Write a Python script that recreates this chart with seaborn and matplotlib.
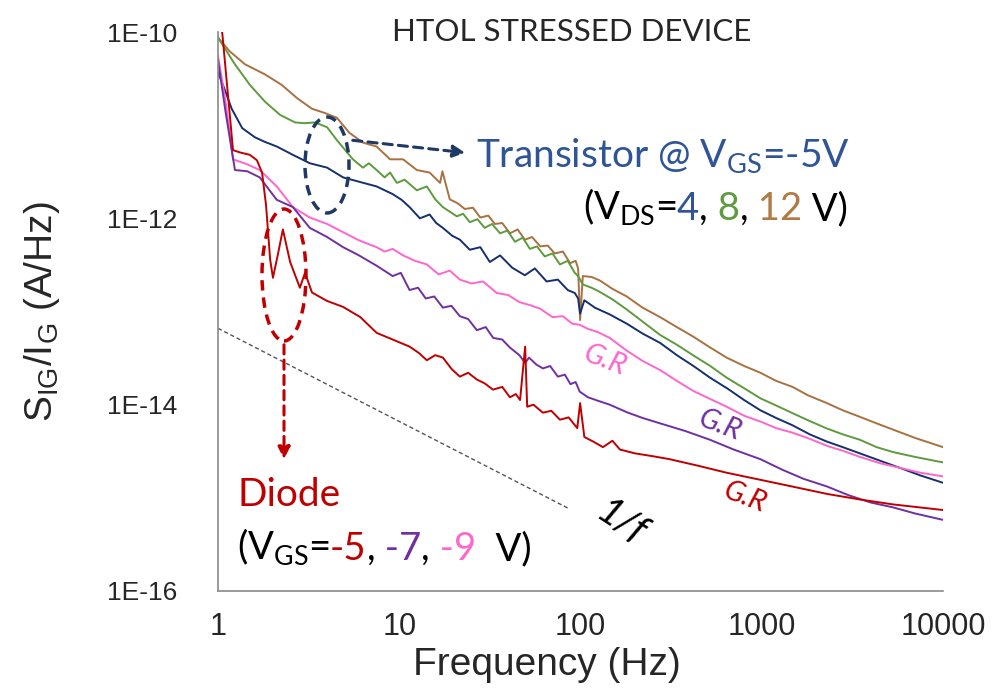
import numpy as np
import pandas as pd
import matplotlib
matplotlib.use('Agg')
import matplotlib.pyplot as plt
import seaborn as sns
from matplotlib.patches import Ellipse
from matplotlib.transforms import IdentityTransform

# ---- data (frequency in Hz, S_IG/I_G in A/Hz) ----
f_brown = [1.0, 1.16, 1.41, 1.82, 2.25, 2.73, 3.3, 3.89, 4.53, 5.3, 6.3, 7.5, 8.9, 10.5, 12.5, 14.7,
           16.8, 17.3, 19.0, 21, 23, 25.5, 28, 31, 33.7, 37, 40.8, 45, 49.3, 54, 60, 66, 72, 80, 87.6,
           94, 97, 99.5, 103, 115, 128, 150, 180, 220, 275, 340, 417, 520, 640, 800, 983, 1200, 1480,
           1800, 2260, 2800, 3480, 4300, 5300, 7000, 10000]
s_brown = [8.7e-11, 6.2e-11, 4.5e-11, 3.5e-11, 2.7e-11, 1.95e-11, 1.5e-11, 1.35e-11, 1.2e-11, 8.3e-12,
           6.5e-12, 5.9e-12, 4.3e-12, 4.3e-12, 3.3e-12, 3.1e-12, 2.4e-12, 3.2e-12, 1.6e-12, 1.45e-12,
           1.26e-12, 1.3e-12, 1.02e-12, 1.07e-12, 8.7e-13, 8.9e-13, 6.9e-13, 7.6e-13, 5.9e-13, 6.3e-13,
           5.0e-13, 5.1e-13, 4.2e-13, 4.4e-13, 3.3e-13, 3.5e-13, 2.9e-13, 8.1e-14, 2.4e-13, 2.35e-13,
           2.15e-13, 1.75e-13, 1.45e-13, 1.1e-13, 8.7e-14, 6.8e-14, 5.4e-14, 4.1e-14, 3.2e-14, 2.6e-14,
           2.2e-14, 1.8e-14, 1.55e-14, 1.26e-14, 1.05e-14, 8.7e-15, 7.4e-15, 6.3e-15, 5.4e-15, 4.4e-15,
           3.5e-15]

f_green = [1.0, 1.24, 1.5, 1.82, 2.2, 2.66, 3.0, 3.43, 4.0, 4.53, 5.55, 6.3, 6.8, 7.5, 8.3, 8.9, 9.7,
           10.7, 12.5, 14.2, 15.8, 17.4, 20.8, 22.5, 24.5, 27, 29.6, 32.5, 36, 39.5, 43.5, 48, 52.6,
           57.5, 63.5, 70, 77, 85, 93, 97, 103, 115, 128, 150, 180, 220, 275, 340, 417, 520, 640, 800,
           983, 1200, 1480, 1800, 2260, 2800, 3480, 4300, 5300, 7000, 10000]
s_green = [8.7e-11, 4.5e-11, 2.7e-11, 1.78e-11, 1.29e-11, 1.07e-11, 1.05e-11, 1.07e-11, 9.5e-12, 6.9e-12,
           4.3e-12, 3.5e-12, 3.9e-12, 3.3e-12, 2.75e-12, 3.1e-12, 2.4e-12, 2.6e-12, 2.0e-12, 2.2e-12,
           1.6e-12, 1.32e-12, 1.05e-12, 1.12e-12, 9.1e-13, 9.8e-13, 7.9e-13, 8.7e-13, 6.9e-13, 7.4e-13,
           5.6e-13, 6.2e-13, 4.7e-13, 5.0e-13, 3.9e-13, 4.2e-13, 3.2e-13, 3.5e-13, 2.6e-13, 2.4e-13,
           1.95e-13, 1.8e-13, 1.62e-13, 1.35e-13, 1.05e-13, 7.8e-14, 5.6e-14, 4.4e-14, 3.4e-14, 2.6e-14,
           1.95e-14, 1.5e-14, 1.17e-14, 9.8e-15, 8.1e-15, 6.8e-15, 5.6e-15, 4.8e-15, 4.2e-15, 3.5e-15,
           3.1e-15, 2.75e-15, 2.4e-15]

f_navy = [1.0, 1.09, 1.19, 1.36, 1.6, 1.82, 2.11, 2.59, 3.21, 4.0, 4.9, 6.1, 7.5, 9.2, 10.3, 11.4, 13.0,
          14.7, 16.0, 17.4, 19.6, 21.6, 24.5, 28, 31.6, 36, 42, 49.3, 56, 65, 75, 85, 93, 97, 99.5, 105,
          120, 145, 180, 220, 275, 340, 420, 518, 650, 800, 983, 1200, 1480, 1840, 2300, 2800, 3480,
          4500, 5770, 7500, 10000]
s_navy = [3.7e-11, 2.4e-11, 1.5e-11, 9.3e-12, 7.4e-12, 6.6e-12, 5.9e-12, 4.8e-12, 3.9e-12, 3.5e-12,
          2.75e-12, 2.45e-12, 2.2e-12, 1.82e-12, 1.58e-12, 1.32e-12, 1.0e-12, 1.1e-12, 8.9e-13, 7.9e-13,
          6.5e-13, 5.9e-13, 4.6e-13, 4.9e-13, 3.4e-13, 4.0e-13, 2.95e-13, 2.45e-13, 2.9e-13, 2.1e-13,
          2.2e-13, 1.7e-13, 1.58e-13, 1.38e-13, 9.5e-14, 1.32e-13, 1.1e-13, 9.3e-14, 7.4e-14, 5.8e-14,
          4.6e-14, 3.4e-14, 2.6e-14, 1.95e-14, 1.48e-14, 1.12e-14, 8.7e-15, 7.2e-15, 6.0e-15, 4.8e-15,
          4.0e-15, 3.5e-15, 3.0e-15, 2.5e-15, 2.1e-15, 1.74e-15, 1.45e-15]

f_pink = [1.0, 1.1, 1.21, 1.45, 1.7, 2.11, 2.59, 3.21, 4.0, 4.9, 6.0, 7.5, 8.3, 9.2, 10.5, 12.2, 14.2,
          16.5, 19, 21.6, 25, 29, 34.5, 40, 46, 52.6, 60, 70, 80, 90, 99, 110, 125, 145, 180, 220, 275,
          340, 420, 520, 640, 800, 1000, 1200, 1480, 1840, 2300, 2800, 3480, 4500, 5770, 7500, 10000]
s_pink = [5.6e-11, 1.8e-11, 4.3e-12, 3.8e-12, 3.3e-12, 2.2e-12, 1.32e-12, 1.02e-12, 8.7e-13, 7.1e-13,
          5.8e-13, 4.9e-13, 4.4e-13, 4.7e-13, 4.0e-13, 3.5e-13, 3.2e-13, 2.5e-13, 2.75e-13, 2.2e-13,
          2.0e-13, 2.1e-13, 1.58e-13, 1.5e-13, 1.26e-13, 1.17e-13, 1.07e-13, 8.7e-14, 8.9e-14, 7.4e-14,
          7.2e-14, 6.5e-14, 6.0e-14, 5.2e-14, 3.8e-14, 2.95e-14, 2.35e-14, 1.8e-14, 1.4e-14, 1.15e-14,
          9.5e-15, 7.6e-15, 6.5e-15, 5.6e-15, 5.0e-15, 4.3e-15, 3.6e-15, 3.2e-15, 2.75e-15, 2.35e-15,
          2.1e-15, 1.86e-15, 1.7e-15]

f_purple = [1.0, 1.1, 1.24, 1.45, 1.7, 2.11, 2.59, 3.21, 4.0, 4.9, 6.0, 7.5, 9.2, 10.2, 11.4, 12.7, 14.0,
            15.6, 17.4, 19.4, 21.6, 24, 26.8, 30, 33, 37, 40.8, 46, 49.5, 52, 57, 62, 68, 75, 82, 88,
            94, 99, 110, 125, 145, 180, 220, 275, 380, 518, 700, 983, 1300, 1700, 2300, 3000, 4000,
            5300, 7000, 10000]
s_purple = [5.0e-11, 1.4e-11, 3.3e-12, 3.2e-12, 2.75e-12, 1.58e-12, 1.32e-12, 7.9e-13, 6.3e-13, 4.9e-13,
            4.0e-13, 3.1e-13, 2.4e-13, 2.6e-13, 1.7e-13, 1.8e-13, 1.38e-13, 1.45e-13, 1.1e-13, 1.15e-13,
            8.9e-14, 8.3e-14, 6.3e-14, 6.8e-14, 5.2e-14, 5.0e-14, 4.1e-14, 3.4e-14, 2.8e-14, 3.2e-14,
            2.7e-14, 2.45e-14, 2.6e-14, 2.0e-14, 2.1e-14, 1.66e-14, 1.75e-14, 1.38e-14, 1.2e-14, 1.1e-14,
            1.0e-14, 8.3e-15, 7.2e-15, 6.3e-15, 5.2e-15, 4.2e-15, 3.3e-15, 2.6e-15, 2.0e-15, 1.6e-15,
            1.32e-15, 1.07e-15, 8.9e-16, 7.9e-16, 6.8e-16, 5.8e-16]

f_red = [1.0, 1.06, 1.21, 1.32, 1.5, 1.64, 1.75, 1.84, 1.94, 2.01, 2.14, 2.28, 2.5, 2.83, 3.02, 3.3,
         3.99, 4.9, 6.1, 7.5, 9.2, 11.4, 12.8, 14.2, 15.8, 17.4, 19.5, 21.6, 24, 26.8, 29.5, 32.9, 37,
         40.8, 44, 46.4, 49.5, 50.8, 55, 62, 69, 77, 86, 96, 99.5, 105, 118, 133, 150, 165, 200, 250,
         310, 450, 640, 1000, 1480, 2300, 3480, 5300, 10000]
s_red = [2.5e-10, 9.0e-11, 5.4e-12, 5.1e-12, 4.8e-12, 4.2e-12, 3.1e-12, 1.4e-12, 3.6e-13, 2.3e-13,
         4.1e-13, 7.6e-13, 3.4e-13, 1.8e-13, 2.6e-13, 1.6e-13, 1.3e-13, 1.12e-13, 8.7e-14, 5.9e-14,
         5.0e-14, 4.2e-14, 3.6e-14, 3.0e-14, 3.4e-14, 3.2e-14, 2.4e-14, 2.0e-14, 2.2e-14, 1.86e-14,
         1.7e-14, 1.45e-14, 1.55e-14, 1.2e-14, 1.3e-14, 1.12e-14, 4.2e-14, 9.5e-15, 1.0e-14, 8.2e-15,
         8.6e-15, 6.9e-15, 7.3e-15, 5.6e-15, 1.04e-14, 4.5e-15, 4.0e-15, 3.5e-15, 4.1e-15, 3.3e-15,
         3.0e-15, 2.8e-15, 2.6e-15, 2.2e-15, 1.86e-15, 1.55e-15, 1.32e-15, 1.1e-15, 9.6e-16, 8.5e-16,
         7.4e-16]

# 1/f guide line end points
f_guide = [1.0, 87.0]
s_guide = [6.6e-14, 7.6e-16]

curves = [
    ('12V', f_brown, s_brown, '#A9713F'),
    ('8V', f_green, s_green, '#5E9A3E'),
    ('4V', f_navy, s_navy, '#15306E'),
    ('-9V', f_pink, s_pink, '#FF66CC'),
    ('-7V', f_purple, s_purple, '#7030A0'),
    ('-5V', f_red, s_red, '#C00000'),
]

sns.set_style('white')
plt.rcParams['font.family'] = ['Liberation Sans', 'DejaVu Sans']
plt.rcParams['mathtext.fontset'] = 'custom'
plt.rcParams['mathtext.rm'] = 'Lato'
plt.rcParams['mathtext.sf'] = 'Liberation Sans'

W, H = 996, 698
fig = plt.figure(figsize=(W / 100, H / 100), dpi=100)
ax = fig.add_axes([218 / W, 1 - 591 / H, 725 / W, 559 / H])

for name, f, s, c in curves:
    df = pd.DataFrame({'freq': f, 'S': s})
    sns.lineplot(data=df, x='freq', y='S', color=c, lw=1.4, estimator=None, ax=ax)

gdf = pd.DataFrame({'freq': f_guide, 'S': s_guide})
sns.lineplot(data=gdf, x='freq', y='S', color='#555555', lw=1.0, ls=(0, (3, 2)), estimator=None, ax=ax)

ax.set_xscale('log')
ax.set_yscale('log')
ax.set_xlim(1, 1e4)
ax.set_ylim(1e-16, 1e-10)
ax.set_xticks([1, 10, 100, 1000, 10000])
ax.set_xticklabels(['1', '10', '100', '1000', '10000'])
ax.set_yticks([1e-16, 1e-14, 1e-12, 1e-10])
ax.set_yticklabels(['1E-16', '1E-14', '1E-12', '1E-10'])
ax.minorticks_off()
for side in ['top', 'right']:
    ax.spines[side].set_visible(False)
for side in ['left', 'bottom']:
    ax.spines[side].set_color('#8a8a8a')
    ax.spines[side].set_linewidth(1.2)
ax.tick_params(axis='both', direction='out', length=5, width=1.2, color='#8a8a8a')
ax.tick_params(axis='y', labelsize=19, pad=24)
ax.tick_params(axis='x', labelsize=22, pad=10)

ax.set_xlabel('Frequency (Hz)', fontsize=28)
ax.set_ylabel(r'S$_{\mathsf{IG}}$/I$_{\mathsf{G}}$ (A/Hz)', fontsize=28)
ax.xaxis.set_label_coords(0.454, -0.10)
ax.yaxis.set_label_coords(-0.215, 0.5)


def px(x, y):
    return x / W, 1 - y / H


def draw_parts(x, y, parts, size):
    r = fig.canvas.get_renderer()
    dx = 0
    for s, c in parts:
        t = fig.text(*px(x + dx, y), s, color=c, fontsize=size, family='Lato', va='baseline', ha='left')
        dx += t.get_window_extent(renderer=r).width


fig.text(*px(572, 41), 'HTOL STRESSED DEVICE', fontsize=22.5, family='Lato', ha='center', va='baseline')

draw_parts(476, 168, [(r'Transistor @ V$_{\mathrm{GS}}$=-5V', '#2F5597')], 28)
draw_parts(583, 220, [(r'(V$_{\mathrm{DS}}$=', 'black'), ('4', '#2F5597'), (',', 'black'), (' 8', '#5E9A3E'),
                      (',', 'black'), (' 12', '#B07A45'), (' V)', 'black')], 27.5)
draw_parts(237, 506, [('Diode', '#C00000')], 28)
draw_parts(237, 560, [(r'(V$_{\mathrm{GS}}$=', 'black'), ('-5', '#C00000'), (',', 'black'), (' -7', '#7030A0'),
                      (',', 'black'), (' -9', '#FF66CC'), ('  V)', 'black')], 27.5)

for (x, y, c) in [(605, 360, '#FF66CC'), (720, 425, '#7030A0'), (745, 497, '#C00000')]:
    fig.text(*px(x, y), 'G.R', color=c, fontsize=21, family='Lato', style='italic',
             rotation=-21, ha='center', va='center', rotation_mode='anchor')
fig.text(*px(621, 522), '1/f', color='black', fontsize=28, family='Lato', style='italic',
         rotation=-33, ha='center', va='center', rotation_mode='anchor')

# dashed ellipses and arrows
ell1 = Ellipse((327, H - 165), 44, 96, fill=False, ec='#1F3864', lw=2.5, ls=(0, (3, 2)),
               transform=IdentityTransform())
ell2 = Ellipse((284, H - 275), 44, 132, fill=False, ec='#C00000', lw=2.5, ls=(0, (3, 2)),
               transform=IdentityTransform())
fig.add_artist(ell1)
fig.add_artist(ell2)
ax.annotate('', xy=(468, H - 153), xytext=(350, H - 140), xycoords='figure pixels',
            textcoords='figure pixels',
            arrowprops=dict(arrowstyle='-|>', color='#1F3864', lw=2.2, ls=(0, (3, 2)), mutation_scale=18))
ax.annotate('', xy=(284, H - 462), xytext=(284, H - 342), xycoords='figure pixels',
            textcoords='figure pixels',
            arrowprops=dict(arrowstyle='-|>', color='#C00000', lw=2.2, ls=(0, (3, 2)), mutation_scale=18))

fig.savefig('out.png', dpi=100)
